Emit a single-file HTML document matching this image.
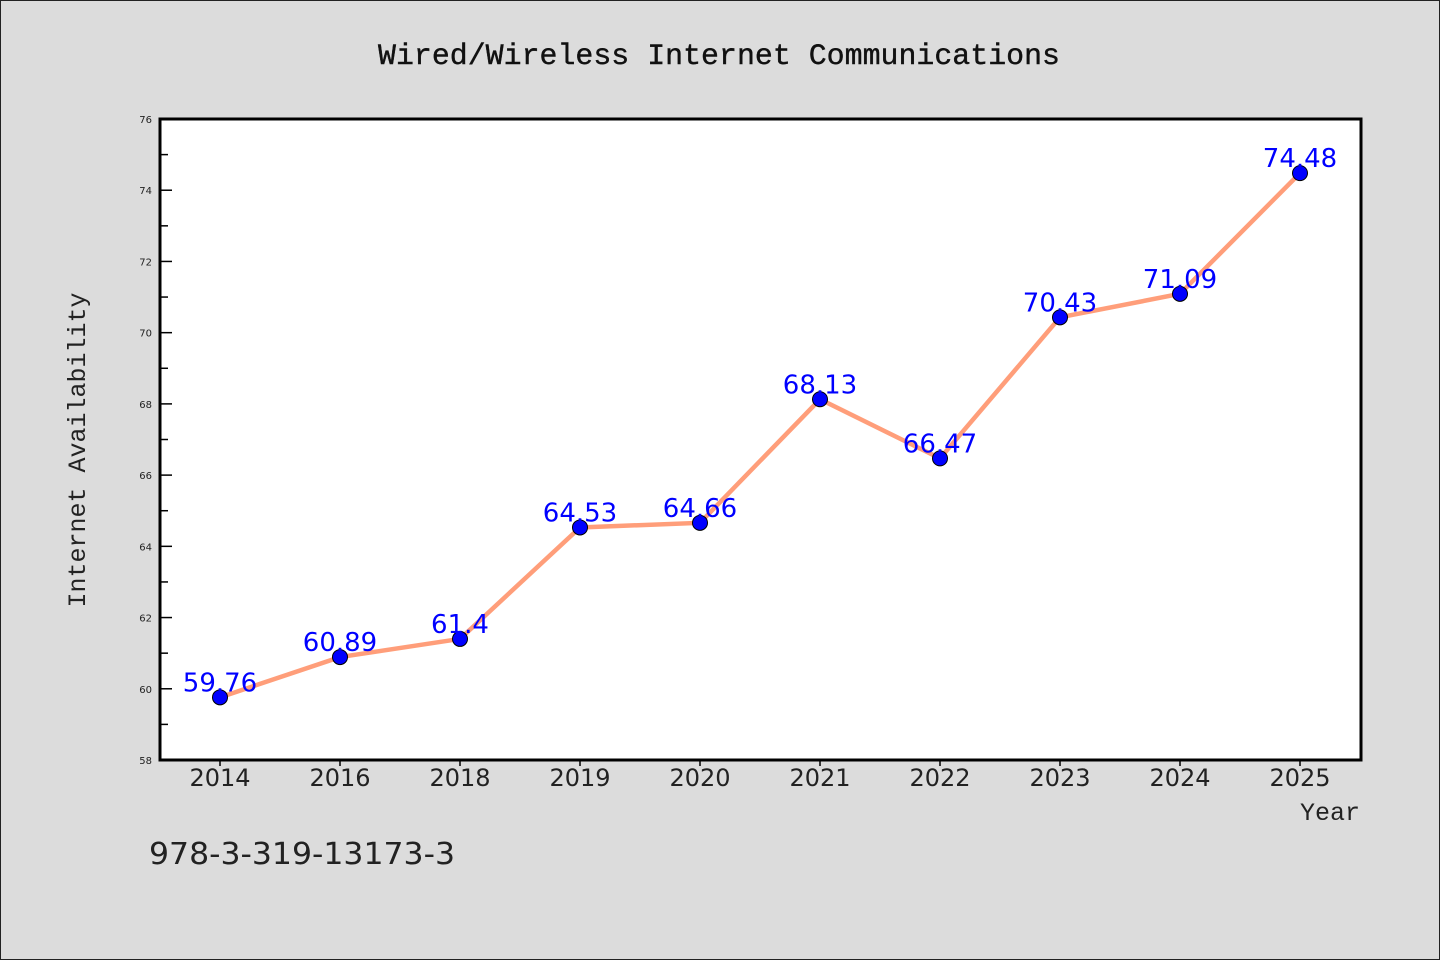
<!DOCTYPE html>
<html><head><meta charset="utf-8"><style>
body{margin:0;background:#dcdcdc;}
svg{display:block;}
</style></head><body>
<svg width="1440" height="960" xmlns="http://www.w3.org/2000/svg">
<rect x="0.5" y="0.5" width="1439" height="959" fill="#dcdcdc" stroke="#222"/>
<text x="378" y="64" textLength="682" lengthAdjust="spacingAndGlyphs" font-family="'Liberation Mono','WenQuanYi Zen Hei',monospace" font-size="30" fill="#111" stroke="#111" stroke-width="0.4">Wired/Wireless Internet Communications</text>
<rect x="160" y="119" width="1201" height="641" fill="#fff"/>
<g id="axes"></g>
<g id="marks"></g>
<path d="M160 119 H1361 V760 H160 Z" fill="none" stroke="#000" stroke-width="3"/>
<text transform="translate(85,450) rotate(-90)" text-anchor="middle" font-family="'Liberation Mono','WenQuanYi Zen Hei',monospace" font-size="25" fill="#222">Internet Availability</text>
<text x="1360" y="820" text-anchor="end" font-family="'Liberation Mono','WenQuanYi Zen Hei',monospace" font-size="25" fill="#222">Year</text>
<text x="149" y="864" textLength="306" lengthAdjust="spacingAndGlyphs" font-family="'DejaVu Sans','Liberation Sans',sans-serif" font-size="30" fill="#222">978-3-319-13173-3</text>
</svg>
<script>
const categories=["2014","2016","2018","2019","2020","2021","2022","2023","2024","2025"];
const values=[59.76,60.89,61.4,64.53,64.66,68.13,66.47,70.43,71.09,74.48];
const valueLabels=["59.76","60.89","61.4","64.53","64.66","68.13","66.47","70.43","71.09","74.48"];
const yTicks=[58,60,62,64,66,68,70,72,74,76];
const yMinor=[59,61,63,65,67,69,71,73,75];
const NS="http://www.w3.org/2000/svg";
const yMin=58,yMax=76,plotTop=119,plotBot=760,plotLeft=160;
function yPos(v){return plotBot-(v-yMin)/(yMax-yMin)*(plotBot-plotTop);}
function xPos(i){return 220+120*i;}
function mk(t,a,p){const e=document.createElementNS(NS,t);for(const k in a)e.setAttribute(k,a[k]);p.appendChild(e);return e;}
const axes=document.getElementById('axes'),marks=document.getElementById('marks');
yTicks.forEach(v=>{
 const l=mk('line',{x1:plotLeft,x2:plotLeft+12,y1:yPos(v),y2:yPos(v),stroke:'#000','stroke-width':1.5},axes);
 
 
 const t=mk('text',{x:152,y:yPos(v)+4,'text-anchor':'end','font-family':'DejaVu Sans,sans-serif','font-size':10,fill:'#222'},axes);
 t.textContent=v;
 
 
});
yMinor.forEach(v=>{
 const l=mk('line',{x1:plotLeft,x2:plotLeft+8,y1:yPos(v),y2:yPos(v),stroke:'#000','stroke-width':1.5},axes);
 
 
});
categories.forEach((c,i)=>{
 const l=mk('line',{x1:xPos(i),x2:xPos(i),y1:plotBot,y2:plotBot+6,stroke:'#000','stroke-width':1.5},axes);
 
 
 const t=mk('text',{x:xPos(i),y:786,'text-anchor':'middle','font-family':'DejaVu Sans,sans-serif','font-size':24,fill:'#222'},axes);
 t.textContent=c;
 
 
});
const pl=mk('polyline',{points:values.map((v,i)=>xPos(i)+','+yPos(v)).join(' '),fill:'none',stroke:'#ff9e7a','stroke-width':4.5},marks);


values.forEach((v,i)=>{
 const c=mk('circle',{cx:xPos(i),cy:yPos(v),r:7.5,fill:'#0000ff',stroke:'#000','stroke-width':1},marks);
 
 
 const t=mk('text',{x:xPos(i),y:yPos(v)-6,'text-anchor':'middle','font-family':'DejaVu Sans,sans-serif','font-size':26,fill:'#0000ff'},marks);
 t.textContent=valueLabels[i];
 
 
});
</script>
</body></html>
